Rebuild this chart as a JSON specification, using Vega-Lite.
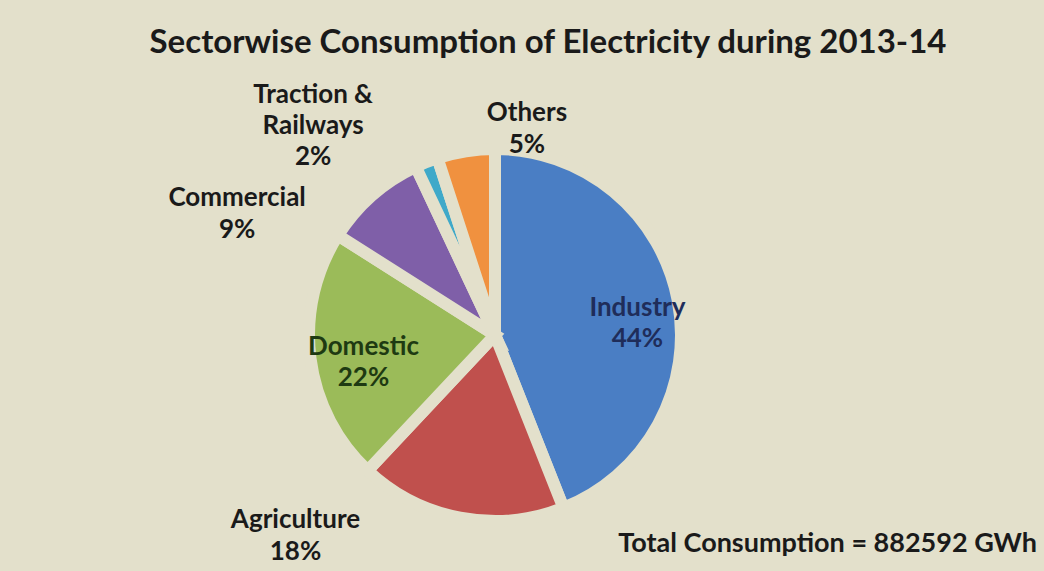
{
  "$schema": "https://vega.github.io/schema/vega-lite/v6.json",
  "autosize": {"type": "none"},
  "width": 900,
  "height": 470,
  "padding": {"left": 45, "top": 100, "right": 99, "bottom": 1},
  "background": "#e3e0cb",
  "config": {"view": {"stroke": null}, "font": "Lato"},
  "title": {
    "text": "Sectorwise Consumption of Electricity during 2013-14",
    "font": "Lato",
    "fontSize": 33,
    "fontWeight": "bold",
    "color": "#1a1a1a",
    "offset": 22,
    "dx": 53,
    "anchor": "middle"
  },
  "layer": [
    {
      "data": {
        "values": [
          {"sector": "Industry", "share": 44, "order": 1, "label": "Industry\n44%"},
          {"sector": "Agriculture", "share": 18, "order": 2, "label": "Agriculture\n18%"},
          {"sector": "Domestic", "share": 22, "order": 3, "label": "Domestic\n22%"},
          {"sector": "Commercial", "share": 9, "order": 4, "label": "Commercial\n9%"},
          {"sector": "Traction & Railways", "share": 2, "order": 5, "label": "Traction &\nRailways\n2%"},
          {"sector": "Others", "share": 5, "order": 6, "label": "Others\n5%"}
        ]
      },
      "transform": [
        {"stack": "share", "groupby": [], "sort": [{"field": "order"}], "as": ["s0", "s1"]},
        {"calculate": "(datum.s0 + datum.s1) / 2", "as": "mid"}
      ],
      "layer": [
        {
          "mark": {"type": "arc", "outerRadius": 186, "stroke": "#e3e0cb", "strokeWidth": 12, "strokeJoin": "miter"},
          "encoding": {
            "theta": {"field": "s0", "type": "quantitative", "scale": {"domain": [0, 100]}},
            "theta2": {"field": "s1"},
            "color": {
              "field": "sector",
              "type": "nominal",
              "scale": {
                "domain": ["Industry", "Agriculture", "Domestic", "Commercial", "Traction & Railways", "Others"],
                "range": ["#4a7ec4", "#c0504d", "#9bbb59", "#7f5fa8", "#3fa9c9", "#f0913f"]
              },
              "legend": null
            }
          }
        },
        {
          "transform": [{"filter": "datum.sector === 'Industry'"}],
          "mark": {"type": "text", "radius": 145, "thetaOffset": 0, "fontSize": 26, "fontWeight": "bold", "color": "#1f2d5a", "lineBreak": "\n", "lineHeight": 31, "align": "center", "baseline": "middle"},
          "encoding": {"theta": {"field": "mid", "type": "quantitative"}, "text": {"field": "label"}}
        },
        {
          "transform": [{"filter": "datum.sector === 'Domestic'"}],
          "mark": {"type": "text", "radius": 132, "thetaOffset": 0.037, "fontSize": 26, "fontWeight": "bold", "color": "#1e3a12", "lineBreak": "\n", "lineHeight": 31, "align": "center", "baseline": "middle"},
          "encoding": {"theta": {"field": "mid", "type": "quantitative"}, "text": {"field": "label"}}
        },
        {
          "transform": [{"filter": "datum.sector === 'Agriculture'"}],
          "mark": {"type": "text", "radius": 272, "thetaOffset": 0.635, "fontSize": 26, "fontWeight": "bold", "color": "#1a1a1a", "lineBreak": "\n", "lineHeight": 32, "align": "center", "baseline": "middle"},
          "encoding": {"theta": {"field": "mid", "type": "quantitative"}, "text": {"field": "label"}}
        },
        {
          "transform": [{"filter": "datum.sector === 'Commercial'"}],
          "mark": {"type": "text", "radius": 292, "thetaOffset": -0.36, "fontSize": 26, "fontWeight": "bold", "color": "#1a1a1a", "lineBreak": "\n", "lineHeight": 32, "align": "center", "baseline": "middle"},
          "encoding": {"theta": {"field": "mid", "type": "quantitative"}, "text": {"field": "label"}}
        },
        {
          "transform": [{"filter": "datum.sector === 'Traction & Railways'"}],
          "mark": {"type": "text", "radius": 301, "thetaOffset": -0.272, "fontSize": 26, "fontWeight": "bold", "color": "#1a1a1a", "lineBreak": "\n", "lineHeight": 31, "align": "center", "baseline": "middle"},
          "encoding": {"theta": {"field": "mid", "type": "quantitative"}, "text": {"field": "label"}}
        },
        {
          "transform": [{"filter": "datum.sector === 'Others'"}],
          "mark": {"type": "text", "radius": 224, "thetaOffset": 0.3, "fontSize": 26, "fontWeight": "bold", "color": "#1a1a1a", "lineBreak": "\n", "lineHeight": 32, "align": "center", "baseline": "middle"},
          "encoding": {"theta": {"field": "mid", "type": "quantitative"}, "text": {"field": "label"}}
        }
      ]
    },
    {
      "data": {"values": [{"note": "Total Consumption = 882592 GWh"}]},
      "mark": {"type": "text", "x": "width", "y": "height", "dx": 92, "dy": -18, "align": "right", "baseline": "alphabetic", "fontSize": 27, "fontWeight": "bold", "color": "#1a1a1a"},
      "encoding": {"text": {"field": "note"}}
    }
  ]
}
